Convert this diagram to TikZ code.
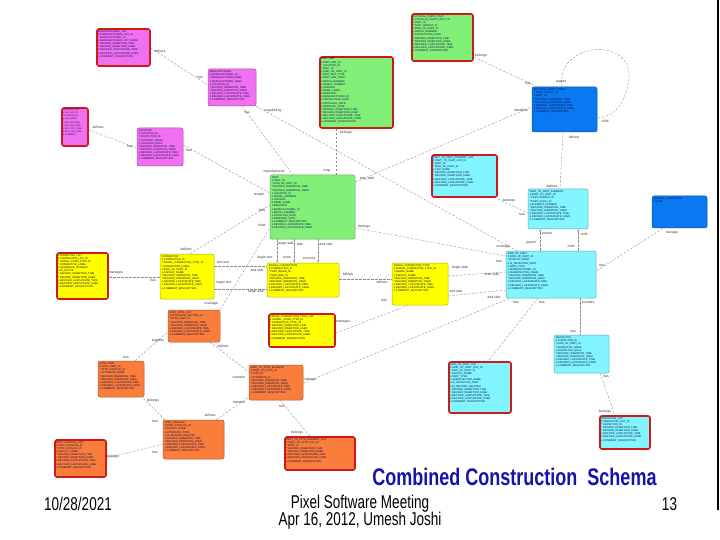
\documentclass[tikz,border=0pt]{standalone}
\usepackage{fontspec}
\usepackage{graphicx}
\setmainfont{Liberation Sans}
\usetikzlibrary{fit,arrows.meta}
\definecolor{pinkc}{RGB}{240,112,240}
\definecolor{greenc}{RGB}{130,240,120}
\definecolor{bluec}{RGB}{10,120,240}
\definecolor{cyanc}{RGB}{130,245,255}
\definecolor{yellc}{RGB}{255,255,0}
\definecolor{orngc}{RGB}{250,125,60}
\definecolor{redb}{RGB}{205,25,25}
\definecolor{txtc}{RGB}{10,10,70}
\definecolor{ttlc}{RGB}{20,20,170}
\newcommand\recf{* RECORD\_INSERTION\_TIME\\* RECORD\_INSERTION\_USER\\o RECORD\_LASTUPDATE\_TIME\\o RECORD\_LASTUPDATE\_USER\\o COMMENT\_DESCRIPTION}
\tikzset{
  ent/.style={draw=#1!70!black, fill=#1, rounded corners=2pt, line width=0.5pt, inner sep=0pt},
  lst/.style={draw=redb, fill=#1, rounded corners=2pt, line width=1.6pt, inner sep=0pt},
  ftxt/.style={anchor=north west, inner sep=1.8pt, align=left, font=\fontsize{2.6}{3.15}\selectfont, text=txtc},
  rel/.style={draw=black!45, line width=0.35pt, dash pattern=on 2.5pt off 1.5pt},
  arr/.style={-{Stealth[length=2.2pt,width=1.8pt]}},
  lab/.style={font=\fontsize{3.4}{4}\selectfont, text=black!80, inner sep=0.3pt},
  foot/.style={font=\fontsize{18.5}{20}\selectfont, inner sep=0pt}
}
\begin{document}
\begin{tikzpicture}[x=1pt,y=-1pt]
\useasboundingbox (0,0) rectangle (720,540);
\draw[black, line width=1.5pt] (718,0) -- (718,510);

% ---------------- entities ----------------
\node[lst=pinkc, fit={(97,29)(150,66)}, label={[ftxt]north west:{MANUFACTURER\_LIST\\\# MANUFACTURER\_LIST\_ID\\* MANUFACTURER\_ID\\o MANUFACTURER\_LIST\_NAME\\\recf}}] (mfl) {};
\node[ent=pinkc, fit={(208,69)(256,106)}, label={[ftxt]north west:{MANUFACTURER\\\# MANUFACTURER\_ID\\* MANUFACTURER\_NAME\\o MANUFACTURER\_DESC\\o LOCATION\_ID\\\recf}}] (mf) {};
\node[lst=pinkc, fit={(62,108)(88,146)}, label={[ftxt, font=\fontsize{2.1}{3.1}\selectfont]north west:{LOCATION\_LIST\\\# LOC\_LIST\_ID\\* LOCATION\_ID\\o LOC\_NAME\\* REC\_INS\_TIME\\* REC\_INS\_USER\\o REC\_UPD\_TIME\\o REC\_UPD\_USER\\o COMMENT}}] (locl) {};
\node[ent=pinkc, fit={(137,128)(183,166)}, label={[ftxt]north west:{LOCATION\\\# LOCATION\_ID\\* INSTITUTION\_ID\\* LOCATION\_NAME\\o LOCATION\_DESC\\\recf}}] (loc) {};

\node[lst=greenc, fit={(320,57)(393,128)}, label={[ftxt]north west:{PART\_MAT\\\# PART\_MAT\_ID\\* LOCATION\_ID\\* PART\_ID\\o KIND\_OF\_PART\_ID\\* PART\_MAT\_TYPE\\o PART\_MAT\_DESC\\o BATCH\_NUMBER\\o SERIAL\_NUMBER\\o VERSION\\o NAME\_LABEL\\o BARCODE\\o MANUFACTURER\_ID\\o PRODUCTION\_DATE\\o INSTALLED\_DATE\\o REMOVED\_DATE\\\recf}}] (pmat) {};
\node[lst=greenc, fit={(412,14)(473,61)}, label={[ftxt]north west:{PHYSICAL\_PARTS\_FACT\\\# PHYSICAL\_PARTS\_FACT\_ID\\* PART\_ID\\* PART\_PARENT\_ID\\* KIND\_OF\_PART\_ID\\o BATCH\_NUMBER\\o PRODUCTION\_DATE\\\recf}}] (ppf) {};
\node[ent=bluec, fit={(532,87)(597,132)}, label={[ftxt]north west:{PHYSICAL\_PARTS\_TREE\\\# PART\_PARENT\_ID\\\# PART\_ID\\\recf}}] (ppt) {};
\node[ent=greenc, fit={(270,175)(355,239)}, label={[ftxt]north west:{PART\\\# PART\_ID\\* KIND\_OF\_PART\_ID\\* RECORD\_INSERTION\_TIME\\* RECORD\_INSERTION\_USER\\o LOCATION\_ID\\o SERIAL\_NUMBER\\o VERSION\\o NAME\_LABEL\\o BARCODE\\o MANUFACTURER\_ID\\o BATCH\_NUMBER\\o INSTALLED\_DATE\\o REMOVED\_DATE\\o COMMENT\_DESCRIPTION\\o RECORD\_LASTUPDATE\_TIME\\o RECORD\_LASTUPDATE\_USER}}] (part) {};
\node[lst=cyanc, fit={(432,155)(497,197)}, label={[ftxt]north west:{PART\_TO\_PART\_ELEMENT\_LIST\\\# PART\_TO\_PART\_LIST\_ID\\* PART\_ID\\* KIND\_OF\_PART\_ID\\o LIST\_NAME\\\recf}}] (p2pl) {};
\node[ent=cyanc, fit={(528,189)(588,229)}, label={[ftxt]north west:{PART\_TO\_PART\_ELEMENT\\\# PART\_TO\_PART\_ID\\* PART\_PARENT\_ID\\* PART\_CHILD\_ID\\o ELEMENT\_NUMBER\\\recf}}] (p2p) {};
\node[ent=bluec, fit={(652,196)(707,228)}, label={[ftxt]north west:{LOGICAL\_PARTITIONS\\* NAME}}] (lpart) {};
\node[ent=cyanc, fit={(506,251)(596,298)}, label={[ftxt]north west:{KIND\_OF\_PART\\\# KIND\_OF\_PART\_ID\\* DISPLAY\_NAME\\o IS\_DETECTOR\_PART\\o PART\_TYPE\\o MANUFACTURER\_ID\\o SUBDETECTOR\_NAME\\\recf}}] (kop) {};

\node[lst=yellc, fit={(57,253)(108,299)}, label={[ftxt]north west:{CONNECTOR\_LIST\\\# CONNECTOR\_LIST\_ID\\* SIGNAL\_CONN\_TYPE\_ID\\* CONNECTOR\_LABEL\\o SEQUENCE\_NUMBER\\o IS\_ACTIVE\\\recf}}] (conl) {};
\node[ent=yellc, fit={(160,254)(214,299)}, label={[ftxt]north west:{CONNECTOR\\\# CONNECTOR\_ID\\* SIGNAL\_CONNECTOR\_TYPE\_ID\\* CONNECTOR\_LABEL\\o KIND\_OF\_PART\_ID\\o DISPLAY\_NAME\\\recf}}] (con) {};
\node[ent=yellc, fit={(267,263)(339,297)}, label={[ftxt]north west:{SIGNAL\_CONNECTION\\\# CONNECTION\_ID\\* PART\_BEGIN\_ID\\* PART\_END\_ID\\\recf}}] (sc) {};
\node[ent=yellc, fit={(392,263)(448,305)}, label={[ftxt]north west:{SIGNAL\_CONNECTOR\_TYPE\\\# SIGNAL\_CONNECTOR\_TYPE\_ID\\* SIGNAL\_NAME\\o DISPLAY\_NAME\\\recf}}] (sct) {};
\node[lst=yellc, fit={(269,314)(335,347)}, label={[ftxt]north west:{SIGNAL\_CONNECTION\_TYPE\_LIST\\\# SIGNAL\_CONN\_TYPE\_ID\\* CONNECTOR\_TYPE\_ID\\\recf}}] (sctl) {};

\node[ent=orngc, fit={(168,310)(220,342)}, label={[ftxt]north west:{PART\_ATTR\_LIST\\\# ATTRIBUTE\_SETTING\_ID\\* ATTR\_PART\_ID\\\recf}}] (pal) {};
\node[ent=orngc, fit={(98,361)(144,397)}, label={[ftxt]north west:{ATTR\_PART\\\# ATTR\_PART\_ID\\* ATTR\_CATALOG\_ID\\* ATTRIBUTE\_NAME\\\recf}}] (ap) {};
\node[ent=orngc, fit={(249,365)(303,400)}, label={[ftxt]north west:{PART\_TO\_ATTR\_ELEMENT\\\# PART\_TO\_ATTR\_ID\\* PART\_ID\\* ATTRIBUTE\_ID\\\recf}}] (p2a) {};
\node[ent=orngc, fit={(163,420)(224,459)}, label={[ftxt]north west:{ATTR\_CATALOG\\\# ATTR\_CATALOG\_ID\\* DISPLAY\_NAME\\o ATTRIBUTE\_TYPE\\o IS\_RECORD\_DELETED\\\recf}}] (ac) {};
\node[lst=orngc, fit={(55,440)(106,477)}, label={[ftxt]north west:{PART\_CATALOG\_LIST\\\# PART\_CATALOG\_ID\\* ATTR\_CATALOG\_ID\\o DISPLAY\_NAME\\\recf}}] (pcl) {};
\node[lst=orngc, fit={(285,437)(355,470)}, label={[ftxt]north west:{PART\_TO\_ATTR\_ELEMENT\_LIST\\\# PART\_TO\_ATTR\_LIST\_ID\\* PART\_ID\\\recf}}] (p2al) {};

\node[lst=cyanc, fit={(449,362)(511,413)}, label={[ftxt]north west:{KIND\_OF\_PART\_LIST\\\# KIND\_OF\_PART\_LIST\_ID\\* KIND\_OF\_PART\_ID\\* DISPLAY\_NAME\\o PART\_TYPE\\o SUBDETECTOR\_NAME\\o IS\_DETECTOR\_PART\\o IS\_RECORD\_DELETED\\\recf}}] (kopl) {};
\node[ent=cyanc, fit={(554,335)(609,373)}, label={[ftxt]north west:{INSPECTOR\\\# INSPECTOR\_ID\\* KIND\_OF\_PART\_ID\\* INSPECTOR\_NAME\\o INSPECTOR\_ROLE\\\recf}}] (insp) {};
\node[lst=cyanc, fit={(600,416)(650,449)}, label={[ftxt]north west:{INSPECTOR\_LIST\\\# INSPECTOR\_LIST\_ID\\* INSPECTOR\_ID\\\recf}}] (inspl) {};

% ---------------- relationships ----------------
\draw[rel] (mfl.east |- 0,48) -- (mf.west |- 0,85);
\draw[rel] (locl.east |- 0,130) -- (loc.west |- 0,148);
\draw[rel] (mf.south -| 242,0) -- (part.north -| 293,0);
\draw[rel] (mf.south east) -- (kop.north -| 517,0);
\draw[rel] (loc.east |- 0,145) -- (part.west |- 0,193);
\draw[rel] (con.north -| 190,0) -- (part.west |- 0,205);
\draw[rel] (pal.north east) -- (part.west |- 0,228);
\draw[rel] (pmat.south -| 336,0) -- (part.north -| 336,0);
\draw[rel] (part.east |- 0,182) -- (ppt.west |- 0,107);
\draw[rel] (ppf.east |- 0,57) -- (ppt.north -| 537,0);
\draw[rel] (ppt.north -| 562,0) .. controls (555,40) and (640,35) .. (628,85) .. controls (623,108) and (612,117) .. (ppt.east |- 0,118);
\draw[rel] (ppt.south -| 563,0) -- (p2p.north -| 560,0);
\draw[rel] (p2pl.east |- 0,199) -- (p2p.west |- 0,213);
\draw[rel, arr] (kop.north -| 540,0) -- (p2p.south -| 540,0);
\draw[rel, arr] (kop.north -| 578,0) -- (p2p.south -| 578,0);
\draw[rel] (lpart.south -| 663,0) -- (kop.east |- 0,271);
\draw[rel] (part.east |- 0,228) -- (kop.west |- 0,256);
\draw[rel] (sct.east |- 0,276) -- (kop.west |- 0,272);
\draw[rel] (sct.east |- 0,296) -- (kop.west |- 0,290);
\draw[rel] (sc.east |- 0,279) -- (sct.west |- 0,279);
\draw[rel, arr] (part.south -| 277,0) -- (sc.north -| 277,0);
\draw[rel, arr] (part.south -| 294,0) -- (sc.north -| 294,0);
\draw[rel, arr] (part.south -| 318,0) -- (sc.north -| 318,0);
\draw[rel] (con.east |- 0,266) -- (sc.west |- 0,266);
\draw[rel] (con.east |- 0,289) -- (sc.west |- 0,289);
\draw[rel, arr] (con.west |- 0,277) -- (conl.east |- 0,277);
\draw[rel] (sctl.east |- 0,333) -- (sct.south -| 408,0);
\draw[rel] (ap.north -| 135,0) -- (pal.west |- 0,332);
\draw[rel] (pal.south -| 210,0) -- (p2a.west |- 0,372);
\draw[rel] (ac.north -| 165,0) -- (ap.south -| 142,0);
\draw[rel] (ac.north -| 216,0) -- (p2a.west |- 0,397);
\draw[rel] (ac.west |- 0,444) -- (pcl.east |- 0,458);
\draw[rel] (p2a.south -| 280,0) -- (p2al.north -| 310,0);
\draw[rel] (p2a.east |- 0,383) -- (kop.south -| 510,0);
\draw[rel] (kop.south -| 538,0) -- (kopl.north -| 488,0);
\draw[rel] (kop.south -| 580,0) -- (insp.north -| 580,0);
\draw[rel] (insp.south -| 600,0) -- (inspl.north -| 615,0);

% ---------------- relationship labels ----------------
\node[lab] (l01) at (160,51) {defines};
\node[lab] (l02) at (200,77) {has};
\node[lab] (l03) at (98,127) {defines};
\node[lab] (l04) at (130,146) {has};
\node[lab] (l05) at (247,112) {has};
\node[lab] (l06) at (274,171) {manufactured};
\node[lab] (l07) at (273,111) {supplied by};
\node[lab] (l08) at (503,247) {coverage};
\node[lab] (l09) at (189,150) {has};
\node[lab] (l10) at (259,194) {remain};
\node[lab] (l11) at (186,249) {defines};
\node[lab] (l12) at (262,210) {field};
\node[lab] (l13) at (211,304) {coverage};
\node[lab] (l14) at (262,225) {fixed};
\node[lab] (l15) at (346,133) {belongs};
\node[lab] (l16) at (327,171) {map};
\node[lab] (l17) at (367,179) {ship\_with};
\node[lab] (l18) at (521,110) {identifies};
\node[lab] (l19) at (481,56) {belongs};
\node[lab] (l20) at (528,83) {has};
\node[lab] (l21) at (561,82) {parent};
\node[lab] (l22) at (605,121) {child};
\node[lab] (l23) at (574,137) {follows};
\node[lab] (l24) at (552,186) {defines};
\node[lab] (l25) at (509,201) {belongs};
\node[lab] (l26) at (522,214) {has};
\node[lab] (l27) at (547,234) {parent};
\node[lab] (l28) at (531,243) {parent};
\node[lab] (l29) at (584,234) {child};
\node[lab] (l30) at (571,246) {child};
\node[lab] (l31) at (672,233) {manage};
\node[lab] (l32) at (602,265) {has};
\node[lab] (l33) at (364,227) {belongs};
\node[lab] (l34) at (499,261) {has};
\node[lab] (l35) at (460,268) {begin side};
\node[lab] (l36) at (492,274) {main side};
\node[lab] (l37) at (456,291) {end side};
\node[lab] (l38) at (494,297) {end side};
\node[lab] (l39) at (348,274) {follows};
\node[lab] (l40) at (382,282) {defines};
\node[lab] (l41) at (286,244) {begin side};
\node[lab] (l42) at (300,244) {side};
\node[lab] (l43) at (326,244) {end side};
\node[lab] (l44) at (265,258) {begin one};
\node[lab] (l45) at (287,258) {none};
\node[lab] (l46) at (309,258) {end one};
\node[lab] (l47) at (223,262) {end one};
\node[lab] (l48) at (257,270) {end side};
\node[lab] (l49) at (224,283) {begin one};
\node[lab] (l50) at (256,292) {begin side};
\node[lab] (l51) at (116,273) {manages};
\node[lab] (l52) at (153,280) {has};
\node[lab] (l53) at (343,322) {manages};
\node[lab] (l54) at (384,300) {has};
\node[lab] (l55) at (126,357) {has};
\node[lab] (l56) at (158,341) {together};
\node[lab] (l57) at (223,346) {defines};
\node[lab] (l58) at (239,377) {contains};
\node[lab] (l59) at (153,401) {belongs};
\node[lab] (l60) at (155,421) {has};
\node[lab] (l61) at (210,415) {defines};
\node[lab] (l62) at (239,402) {member};
\node[lab] (l63) at (113,457) {belongs};
\node[lab] (l64) at (155,452) {has};
\node[lab] (l65) at (282,406) {has};
\node[lab] (l66) at (297,433) {belongs};
\node[lab] (l67) at (310,380) {catalogs};
\node[lab] (l68) at (516,302) {has};
\node[lab] (l69) at (542,302) {has};
\node[lab] (l70) at (588,302) {includes};
\node[lab] (l71) at (573,331) {has};
\node[lab] (l72) at (606,376) {has};
\node[lab] (l73) at (605,412) {belongs};

% ---------------- slide text ----------------
\node[inner sep=0pt, text=ttlc, font=\fontsize{24}{26}\selectfont\bfseries] (title) at (514.5,477) {\scalebox{0.75}[1]{Combined Construction\ \ Schema}};
\node[foot] (date) at (78,504) {\scalebox{0.73}[1]{10/28/2021}};
\node[foot] (meet) at (360,504) {\scalebox{0.73}[1]{Pixel Software Meeting}};
\node[foot] (auth) at (360,521) {\scalebox{0.73}[1]{Apr 16, 2012, Umesh Joshi}};
\node[foot] (page) at (669.5,504) {\scalebox{0.73}[1]{13}};
\end{tikzpicture}
\end{document}
